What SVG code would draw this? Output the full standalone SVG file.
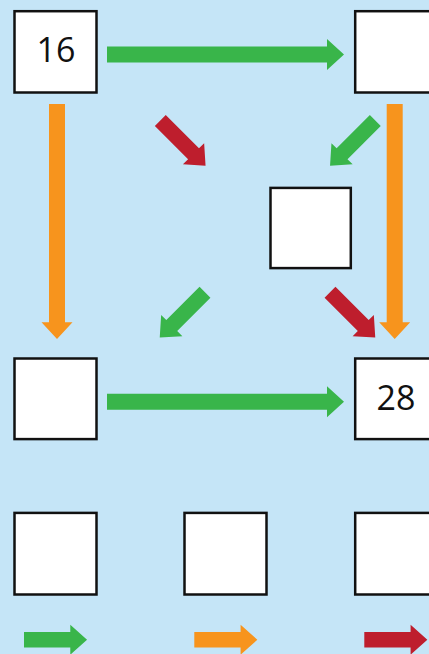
<svg xmlns="http://www.w3.org/2000/svg" width="429" height="654" viewBox="0 0 429 654">
<style>
.box{fill:#ffffff;stroke:#111111;stroke-width:2.5}
.g{fill:#39b54a}.o{fill:#f7941d}.r{fill:#be1e2d}
.t{font-family:"Open Sans","Noto Sans",sans-serif;font-size:34px;fill:#111111;text-anchor:middle}
</style>
<defs>
<path id="long" d="M0,-8 H220 V-15.5 L237,0 L220,15.5 V8 H0 Z"/>
<path id="short" d="M0,-7.7 H47 V-15 L64,0 L47,15 V7.7 H0 Z"/>
</defs>
<rect width="429" height="654" fill="#c5e5f7"/>
<g id="connectors">
<use href="#long" class="g" transform="translate(107,54.5)"/>
<use href="#long" class="g" transform="translate(107,401.7)"/>
<use href="#long" class="o" transform="translate(57,104) rotate(90) scale(0.992,1)"/>
<use href="#long" class="o" transform="translate(394.7,104) rotate(90) scale(0.992,1)"/>
<use href="#short" class="r" transform="translate(160.3,120.5) rotate(45)"/>
<use href="#short" class="g" transform="translate(375.3,120.5) rotate(135)"/>
<use href="#short" class="g" transform="translate(205,292.3) rotate(135)"/>
<use href="#short" class="r" transform="translate(330,292.3) rotate(45)"/>
<use href="#short" class="g" transform="translate(24,639.7) scale(0.985,1)"/>
<use href="#short" class="o" transform="translate(194.3,639.7) scale(0.985,1)"/>
<use href="#short" class="r" transform="translate(364.3,639.7) scale(0.985,1)"/>
</g>
<g id="n16"><rect class="box" x="14.5" y="11.2" width="82" height="81.3"/><text class="t" x="56" y="62">16</text></g>
<g id="ntr"><rect class="box" x="355.2" y="11.2" width="82" height="81.3"/></g>
<g id="nmid"><rect class="box" x="270.5" y="187.9" width="80.3" height="80.2"/></g>
<g id="nbl"><rect class="box" x="14.5" y="358.5" width="82" height="80.6"/></g>
<g id="n28"><rect class="box" x="355.2" y="358.5" width="82" height="80.6"/><text class="t" x="396" y="410">28</text></g>
<g id="l1"><rect class="box" x="14.5" y="512.9" width="82" height="81.6"/></g>
<g id="l2"><rect class="box" x="184.5" y="512.9" width="82" height="81.6"/></g>
<g id="l3"><rect class="box" x="355.2" y="512.9" width="82" height="81.6"/></g>
</svg>
